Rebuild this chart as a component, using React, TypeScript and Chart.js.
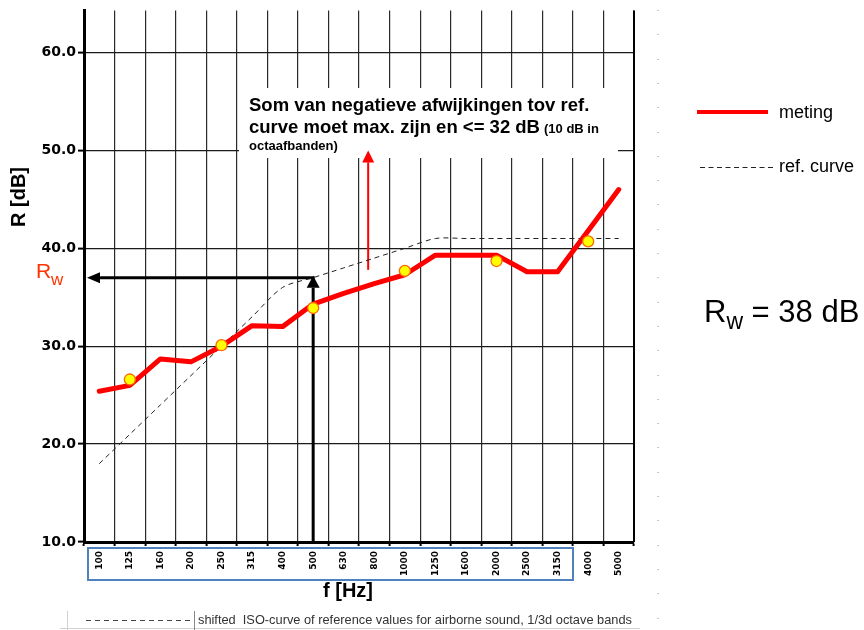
import React, { useEffect, useRef } from 'react';
import { Chart, registerables } from 'chart.js';

Chart.register(...registerables);

// ---- data ----
const frequencies = ['100', '125', '160', '200', '250', '315', '400', '500', '630', '800', '1000', '1250', '1600', '2000', '2500', '3150', '4000', '5000'];
const metingValues = [25.4, 26.0, 28.7, 28.4, 30.0, 32.1, 32.0, 34.3, 35.4, 36.4, 37.3, 39.3, 39.3, 39.3, 37.6, 37.6, 41.8, 46.0];
const octaveValues = [null, 26.6, null, null, 30.1, null, null, 33.9, null, null, 37.7, null, null, 38.7, null, null, 40.7, null];
const refCurveValues = [18, 21, 24, 27, 30, 33, 36, 37, 38, 39, 40, 41, 41, 41, 41, 41, 41, 41];
const yTickValues = [10, 20, 30, 40, 50, 60];
const yMin = 10;
const yMax = 64.3;
const rwArrowLevel = 37;
const rwArrowIndex = 7; // 500 Hz
const rwLabel = '38 dB';
const redArrowIndex = 8.8;
const redArrowFrom = 37.8;
const redArrowTo = 50.0;

const ARIAL = '"Liberation Sans", Arial, sans-serif';

function drawArrow(ctx: CanvasRenderingContext2D, x1: number, y1: number, x2: number, y2: number, color: string, width: number, headLen: number, headW: number) {
  const ang = Math.atan2(y2 - y1, x2 - x1);
  const bx = x2 - headLen * Math.cos(ang);
  const by = y2 - headLen * Math.sin(ang);
  ctx.save();
  ctx.strokeStyle = color;
  ctx.lineWidth = width;
  ctx.beginPath();
  ctx.moveTo(x1, y1);
  ctx.lineTo(bx, by);
  ctx.stroke();
  ctx.fillStyle = color;
  ctx.beginPath();
  ctx.moveTo(x2, y2);
  ctx.lineTo(bx + (headW / 2) * Math.sin(ang), by - (headW / 2) * Math.cos(ang));
  ctx.lineTo(bx - (headW / 2) * Math.sin(ang), by + (headW / 2) * Math.cos(ang));
  ctx.closePath();
  ctx.fill();
  ctx.restore();
}

const overlayPlugin = {
  id: 'overlay',
  beforeDatasetsDraw(chart: any) {
    const { ctx, scales, chartArea } = chart;
    const x = scales.x;
    const y = scales.y;
    ctx.save();
    // right border
    ctx.strokeStyle = '#000';
    ctx.lineWidth = 2;
    ctx.beginPath();
    ctx.moveTo(chartArea.right, chartArea.top);
    ctx.lineTo(chartArea.right, chartArea.bottom);
    ctx.stroke();
    // white annotation box
    ctx.fillStyle = '#ffffff';
    ctx.fillRect(239, 88, 379, 70);
    // black Rw arrows
    const px = x.getPixelForValue(rwArrowIndex);
    const py = y.getPixelForValue(rwArrowLevel);
    drawArrow(ctx, px + 1.5, py, chartArea.left + 3, py, '#000', 3, 13, 11);
    drawArrow(ctx, px, chartArea.bottom, px, py - 2, '#000', 3, 12, 13);
    // red arrow
    const rx = x.getPixelForValue(redArrowIndex);
    drawArrow(ctx, rx, y.getPixelForValue(redArrowFrom), rx, y.getPixelForValue(redArrowTo), '#FF0000', 2, 12, 12);
    // annotation text
    ctx.fillStyle = '#000';
    ctx.textBaseline = 'alphabetic';
    ctx.textAlign = 'left';
    ctx.font = `bold 18.5px ${ARIAL}`;
    ctx.fillText('Som van negatieve afwijkingen tov ref.', 249, 111);
    const l2 = 'curve moet max. zijn en <= 32 dB';
    ctx.fillText(l2, 249, 133);
    const w2 = ctx.measureText(l2).width;
    ctx.font = `bold 13px ${ARIAL}`;
    ctx.fillText('(10 dB in', 249 + w2 + 4, 133);
    ctx.fillText('octaafbanden)', 249, 150);
    ctx.restore();
  },
  afterDraw(chart: any) {
    const { ctx } = chart;
    ctx.save();
    // y axis title
    ctx.fillStyle = '#000';
    ctx.font = `bold 20px ${ARIAL}`;
    ctx.textAlign = 'center';
    ctx.textBaseline = 'middle';
    ctx.save();
    ctx.translate(19, 197);
    ctx.rotate(-Math.PI / 2);
    ctx.fillText('R [dB]', 0, 0);
    ctx.restore();
    // x axis title
    ctx.fillText('f [Hz]', 348, 591);
    // blue box around 1/3 octave labels
    ctx.strokeStyle = '#4F81BD';
    ctx.lineWidth = 2;
    ctx.strokeRect(88, 548, 485, 32);
    // Rw left label
    ctx.textAlign = 'left';
    ctx.textBaseline = 'alphabetic';
    ctx.fillStyle = '#FF3300';
    ctx.font = `21px ${ARIAL}`;
    ctx.fillText('R', 36, 278);
    ctx.font = `17px ${ARIAL}`;
    ctx.fillText('w', 51, 285);
    // Rw = 38 dB
    ctx.fillStyle = '#000';
    ctx.font = `31px ${ARIAL}`;
    ctx.fillText('R', 704, 322);
    const rW = ctx.measureText('R').width;
    ctx.font = `23px ${ARIAL}`;
    ctx.fillText('w', 704 + rW, 329);
    const wW = ctx.measureText('w').width;
    ctx.font = `31px ${ARIAL}`;
    ctx.fillText(' = ' + rwLabel, 704 + rW + wW, 322);
    // legend
    ctx.strokeStyle = '#FF0000';
    ctx.lineWidth = 4;
    ctx.beginPath();
    ctx.moveTo(697, 112);
    ctx.lineTo(768, 112);
    ctx.stroke();
    ctx.strokeStyle = '#222';
    ctx.lineWidth = 1;
    ctx.setLineDash([5, 3.5]);
    ctx.beginPath();
    ctx.moveTo(700, 167.5);
    ctx.lineTo(773, 167.5);
    ctx.stroke();
    ctx.setLineDash([]);
    ctx.fillStyle = '#000';
    ctx.font = `18px ${ARIAL}`;
    ctx.textBaseline = 'middle';
    ctx.fillText('meting', 779, 113);
    ctx.fillText('ref. curve', 779, 167);
    // faint dotted separator
    ctx.fillStyle = '#c8c8c8';
    for (let yy = 10; yy < 630; yy += 24.3) {
      ctx.fillRect(657, Math.round(yy), 2, 1);
    }
    // bottom note
    ctx.strokeStyle = '#d0d0d0';
    ctx.lineWidth = 1;
    ctx.beginPath();
    ctx.moveTo(67.5, 611);
    ctx.lineTo(67.5, 630);
    ctx.moveTo(60, 628.5);
    ctx.lineTo(640, 628.5);
    ctx.stroke();
    ctx.strokeStyle = '#888';
    ctx.beginPath();
    ctx.moveTo(194.5, 611);
    ctx.lineTo(194.5, 630);
    ctx.stroke();
    ctx.strokeStyle = '#444';
    ctx.setLineDash([5, 4]);
    ctx.beginPath();
    ctx.moveTo(86, 620.5);
    ctx.lineTo(193, 620.5);
    ctx.stroke();
    ctx.setLineDash([]);
    ctx.fillStyle = '#333';
    ctx.font = `12.8px ${ARIAL}`;
    ctx.textBaseline = 'middle';
    ctx.fillText('shifted  ISO-curve of reference values for airborne sound, 1/3d octave bands', 198, 620);
    ctx.restore();
  },
};

export default function App() {
  const canvasRef = useRef<HTMLCanvasElement | null>(null);

  useEffect(() => {
    const canvas = canvasRef.current;
    if (!canvas) return;
    Chart.defaults.font.family = ARIAL;
    const chart = new Chart(canvas, {
      type: 'line',
      data: {
        labels: frequencies,
        datasets: [
          {
            label: 'octaafbanden',
            data: octaveValues as any,
            showLine: false,
            pointRadius: 5.5,
            pointBackgroundColor: '#FFFF00',
            pointBorderColor: '#FF6600',
            pointBorderWidth: 1.3,
            order: 0,
          },
          {
            label: 'meting',
            data: metingValues,
            borderColor: '#FF0000',
            borderWidth: 5,
            pointRadius: 0,
            tension: 0,
            borderJoinStyle: 'round',
            borderCapStyle: 'round',
            order: 1,
          },
          {
            label: 'ref. curve',
            data: refCurveValues,
            borderColor: '#222222',
            borderWidth: 1,
            borderDash: [5, 4],
            pointRadius: 0,
            tension: 0.3,
            order: 2,
          },
        ],
      },
      options: {
        responsive: false,
        animation: false,
        devicePixelRatio: 1,
        layout: { padding: { top: 8, right: 230, left: 0, bottom: 0 } },
        plugins: { legend: { display: false }, tooltip: { enabled: false } },
        scales: {
          x: {
            type: 'category',
            offset: true,
            grid: { offset: true, color: '#2a2a2a', lineWidth: 1.2, tickLength: 4, tickColor: '#000', tickWidth: 2 },
            border: { color: '#000', width: 3 },
            ticks: {
              autoSkip: false,
              minRotation: 90,
              maxRotation: 90,
              padding: 5,
              color: '#000',
              font: { family: '"DejaVu Sans"', size: 9, weight: 'bold' },
            },
            afterFit(s: any) {
              s.height = 88;
            },
          },
          y: {
            min: yMin,
            max: yMax,
            afterBuildTicks(s: any) {
              s.ticks = yTickValues.map((v) => ({ value: v }));
            },
            grid: { color: '#1a1a1a', lineWidth: 1.2, tickLength: 6, tickColor: '#000', tickWidth: 2 },
            border: { color: '#000', width: 3 },
            ticks: {
              callback: (v: any) => Number(v).toFixed(1),
              color: '#000',
              padding: 2,
              font: { family: '"DejaVu Sans"', size: 14, weight: 'bold' },
            },
            afterFit(s: any) {
              s.width = 84;
            },
          },
        },
      } as any,
      plugins: [overlayPlugin],
    });
    return () => chart.destroy();
  }, []);

  return (
    <div style={{ position: 'absolute', left: 0, top: 0, width: 864, height: 630, background: '#fff' }}>
      <canvas ref={canvasRef} width={864} height={630} />
    </div>
  );
}
